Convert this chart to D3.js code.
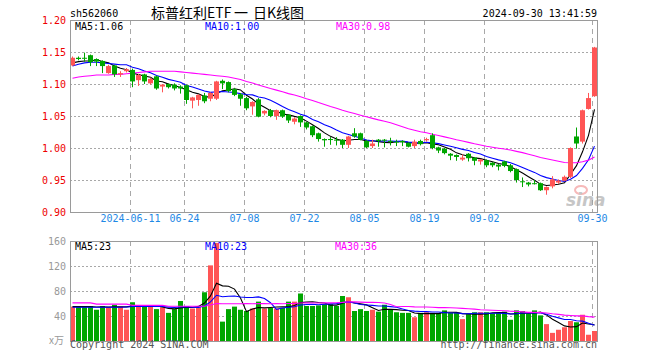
<!DOCTYPE html>
<html><head><meta charset="utf-8">
<script src="https://cdn.jsdelivr.net/npm/d3@7/dist/d3.min.js"></script>
<style>
body{margin:0;background:#fff;}
svg{display:block;}
text{font-family:"DejaVu Sans Mono",monospace;font-size:10px;}
</style></head><body>
<svg id="c" width="660" height="360"></svg>
<script>
// ---- data ----
const dates = ["05-27","05-28","05-29","05-30","05-31","06-03","06-04","06-05","06-06","06-07",
"06-11","06-12","06-13","06-14","06-17","06-18","06-19","06-20","06-21","06-24",
"06-25","06-26","06-27","06-28","07-01","07-02","07-03","07-04","07-05","07-08",
"07-09","07-10","07-11","07-12","07-15","07-16","07-17","07-18","07-19","07-22",
"07-23","07-24","07-25","07-26","07-29","07-30","07-31","08-01","08-02","08-05",
"08-06","08-07","08-08","08-09","08-12","08-13","08-14","08-15","08-16","08-19",
"08-20","08-21","08-22","08-23","08-26","08-27","08-28","08-29","08-30","09-02",
"09-03","09-04","09-05","09-06","09-09","09-10","09-11","09-12","09-13","09-18",
"09-19","09-20","09-23","09-24","09-25","09-26","09-27","09-30"];
const open  = [1.129,1.141,1.141,1.145,1.139,1.136,1.117,1.129,1.115,1.120,
1.122,1.106,1.115,1.101,1.112,1.096,1.100,1.099,1.096,1.098,
1.074,1.075,1.082,1.077,1.077,1.105,1.103,1.092,1.084,1.078,
1.065,1.076,1.054,1.059,1.050,1.059,1.052,1.041,1.050,1.040,
1.034,1.023,1.014,1.014,1.013,1.013,1.005,1.023,1.023,1.011,
1.003,1.013,1.013,1.011,1.010,1.011,1.008,1.003,1.011,1.012,
1.020,1.001,0.999,0.991,0.989,0.982,0.991,0.985,0.979,0.981,
0.977,0.974,0.979,0.973,0.967,0.948,0.946,0.945,0.945,0.934,
0.940,0.946,0.949,0.955,1.018,1.010,1.061,1.081];
const high  = [1.143,1.143,1.149,1.146,1.140,1.137,1.130,1.130,1.120,1.125,
1.124,1.116,1.116,1.110,1.113,1.100,1.101,1.101,1.098,1.099,
1.080,1.084,1.086,1.087,1.105,1.107,1.104,1.094,1.086,1.080,
1.073,1.078,1.059,1.061,1.060,1.060,1.053,1.048,1.051,1.041,
1.035,1.024,1.015,1.017,1.017,1.014,1.019,1.031,1.024,1.013,
1.013,1.014,1.014,1.016,1.013,1.012,1.009,1.013,1.013,1.016,
1.023,1.002,1.000,0.992,0.990,0.990,0.992,0.986,0.983,0.982,
0.978,0.975,0.980,0.975,0.968,0.954,0.947,0.950,0.946,0.940,
0.956,0.951,0.957,1.001,1.032,1.060,1.086,1.158];
const low   = [1.128,1.137,1.135,1.128,1.128,1.117,1.116,1.111,1.111,1.118,
1.095,1.097,1.100,1.099,1.091,1.087,1.093,1.090,1.085,1.069,
1.062,1.066,1.070,1.073,1.075,1.092,1.087,1.081,1.066,1.059,
1.052,1.048,1.051,1.048,1.044,1.047,1.039,1.037,1.033,1.029,
1.017,1.010,1.002,1.005,1.004,1.000,1.000,1.016,1.012,1.000,
1.000,1.002,1.001,1.004,1.003,1.003,1.001,1.000,1.004,1.010,
0.998,0.992,0.990,0.981,0.980,0.980,0.979,0.973,0.974,0.970,
0.970,0.965,0.970,0.962,0.946,0.939,0.940,0.943,0.933,0.927,
0.937,0.944,0.948,0.953,0.999,1.007,1.060,1.080];
const close = [1.141,1.139,1.140,1.134,1.135,1.128,1.128,1.115,1.117,1.123,
1.104,1.114,1.104,1.108,1.093,1.099,1.095,1.093,1.093,1.075,
1.079,1.083,1.073,1.086,1.104,1.101,1.089,1.083,1.077,1.062,
1.072,1.049,1.058,1.050,1.059,1.049,1.043,1.046,1.040,1.032,
1.020,1.014,1.012,1.013,1.012,1.005,1.018,1.018,1.013,1.001,
1.007,1.011,1.012,1.010,1.009,1.009,1.002,1.010,1.006,1.014,
1.000,0.996,0.992,0.988,0.986,0.985,0.984,0.980,0.982,0.973,
0.973,0.971,0.972,0.964,0.950,0.947,0.943,0.944,0.934,0.939,
0.951,0.949,0.955,1.000,1.007,1.059,1.078,1.157];
const volume = [55,56,55,56,50,56,54,58,55,50,
62,56,55,56,51,54,45,51,64,56,
52,54,78,121,157,31,51,55,50,48,
52,63,52,53,52,53,63,63,76,56,
56,57,59,59,56,72,70,48,51,48,
50,47,58,50,46,45,45,38,45,46,
45,45,49,45,45,35,43,46,46,46,
44,45,47,34,49,48,44,49,41,27,
13,18,22,32,30,42,10,16];
// moving-average values before a full window exists
const priceMa5Head  = [1.133,1.135,1.136,1.136];
const priceMa10Head = [1.128,1.131,1.133,1.134,1.134,1.133,1.132,1.131,1.130];
const priceMa30Head = [1.109,1.111,1.112,1.113,1.114,1.114,1.114,1.115,1.115,1.116,
1.117,1.118,1.119,1.120,1.120,1.120,1.120,1.120,1.119,1.118,
1.117,1.116,1.115,1.114,1.113,1.112,1.111,1.109,1.107];
const volMa5Head  = [55,55,55,55];
const volMa10Head = [54,54,54,54,54,54,54,54,54];
const volMa30Head = [61,61,61,61,59,59,59,59,59,59,
57,57,57,57,57,57,55.5,55.5,55.5,55.5,
55.5,55.5,55.5,57.5,60,59.5,59.5,59.5,59.5];

const tickIndex  = [10,19,29,39,49,59,69,87];
const tickLabels = ["2024-06-11","06-24","07-08","07-22","08-05","08-19","09-02","09-30"];
const priceTicks = [0.90,0.95,1.00,1.05,1.10,1.15,1.20];
const volTicks   = [40,80,120,160];
const priceLegend = ["MA5:1.06","MA10:1.00","MA30:0.98"];
const volLegend   = ["MA5:23","MA10:23","MA30:36"];
const titleCode = "sh562060";
const titleName = "标普红利ETF 一 日K线图";
const titleTime = "2024-09-30 13:41:59";

// ---- drawing ----
const RED = "#ff5555", GREEN = "#00a600", GRID = "#a8a8a8";
const maColors = ["#000000","#0000ff","#ff00ff"];
const svg = d3.select("#c");
const L = 70, R = 597.5;
const x = d3.scaleLinear().domain([0, 88]).range([70, 598]);
const yP = d3.scaleLinear().domain([0.90, 1.20]).range([212, 20]);
const yV = d3.scaleLinear().domain([0, 160]).range([341, 241]);
const idx = d3.range(dates.length);

function movingAvg(vals, n, head) {
  return vals.map((v, i) => i < n - 1 ? head[i] : d3.mean(vals.slice(i - n + 1, i + 1)));
}
const pMA = [movingAvg(close,5,priceMa5Head), movingAvg(close,10,priceMa10Head), movingAvg(close,30,priceMa30Head)];
const vMA = [movingAvg(volume,5,volMa5Head), movingAvg(volume,10,volMa10Head), movingAvg(volume,30,volMa30Head)];

// title
svg.append("text").attr("x", 70).attr("y", 17).text(titleCode);
const tt = svg.append("text").attr("y", 18)
  .style("font-family", "'Noto Sans CJK SC','DejaVu Sans Mono',sans-serif").style("font-size", "14px");
const titleX = [151, 234, 253];
titleName.split(" ").forEach((part, k) => tt.append("tspan").attr("x", titleX[k]).text(part));
svg.append("text").attr("x", 597).attr("y", 17).attr("text-anchor", "end").text(titleTime);

function panel(yScale, top, bottom, hTicks) {
  const g = svg.append("g");
  g.selectAll(".h").data(hTicks).join("line")
    .attr("x1", L).attr("x2", R)
    .attr("y1", d => Math.round(yScale(d)) + 0.5).attr("y2", d => Math.round(yScale(d)) + 0.5)
    .attr("stroke", GRID).attr("stroke-dasharray", "2,2");
  g.selectAll(".v").data(tickIndex).join("line")
    .attr("x1", d => x(d) + 0.5).attr("x2", d => x(d) + 0.5)
    .attr("y1", top).attr("y2", bottom)
    .attr("stroke", GRID).attr("stroke-dasharray", "5,4");
  return g;
}
function border(top, bottom) {
  svg.append("rect").attr("x", L + 0.5).attr("y", top + 0.5).attr("width", R - L - 0.5).attr("height", bottom - top)
    .attr("fill", "none").attr("stroke", "#9a9a9a").attr("stroke-width", 1);
}

// price panel
panel(yP, 20, 212, [0.95,1.00,1.05,1.10,1.15]);

// watermark
const wm = svg.append("g").attr("opacity", 0.55);
wm.append("ellipse").attr("cx", 581).attr("cy", 190).attr("rx", 6).attr("ry", 4)
  .attr("fill", "none").attr("stroke", "#f08080").attr("stroke-width", 2);
wm.append("text").attr("x", 566).attr("y", 206)
  .style("font-family", "'DejaVu Sans',sans-serif").style("font-size", "17px")
  .style("font-style", "italic").style("font-weight", "bold").style("fill", "#999").text("sina");

// MA lines (price)
pMA.forEach((arr, k) => {
  svg.append("path").datum(arr)
    .attr("d", d3.line().x((d, i) => x(i) + 2.5).y(d => yP(d)))
    .attr("fill", "none").attr("stroke", maColors[k]).attr("stroke-width", 1.1);
});

// candles
const cg = svg.append("g");
cg.selectAll("line").data(idx).join("line")
  .attr("x1", i => x(i) + 2.5).attr("x2", i => x(i) + 2.5)
  .attr("y1", i => yP(high[i])).attr("y2", i => yP(low[i]))
  .attr("stroke", i => close[i] >= open[i] ? RED : GREEN);
cg.selectAll("rect").data(idx).join("rect")
  .attr("x", i => x(i)).attr("width", 5)
  .attr("y", i => yP(Math.max(open[i], close[i])))
  .attr("height", i => Math.max(1, yP(Math.min(open[i], close[i])) - yP(Math.max(open[i], close[i]))))
  .attr("fill", i => close[i] >= open[i] ? RED : GREEN);

border(20, 212);

// price axis labels (red), placed with the price scale
svg.append("g").selectAll("text").data(priceTicks).join("text")
  .attr("x", 66).attr("y", d => yP(d)).attr("dy", "0.35em")
  .attr("text-anchor", "end").attr("fill", "#ee0000")
  .text(d => d3.format(".2f")(d));

// date axis
const da = svg.append("g").attr("transform", "translate(0,215)")
  .call(d3.axisBottom(x).tickValues(tickIndex).tickSize(0).tickPadding(0)
    .tickFormat((d, i) => tickLabels[i]));
da.select(".domain").remove();
da.attr("color", "#1e88e5");
da.selectAll("text").attr("fill", "#1e88e5").style("fill", "#1e88e5").attr("dy", "0.71em")
  .style("font-family", "'DejaVu Sans Mono',monospace").style("font-size", "10px");

// price legend
[75, 205, 336].forEach((lx, k) => {
  svg.append("text").attr("x", lx).attr("y", 30).style("fill", maColors[k]).text(priceLegend[k]);
});

// volume panel
panel(yV, 241, 341, [40,80,120]);
svg.append("g").selectAll("rect").data(idx).join("rect")
  .attr("x", i => x(i)).attr("width", 5)
  .attr("y", i => yV(volume[i])).attr("height", i => yV(0) - yV(volume[i]))
  .attr("fill", i => close[i] >= open[i] ? RED : GREEN);
vMA.forEach((arr, k) => {
  svg.append("path").datum(arr)
    .attr("d", d3.line().x((d, i) => x(i) + 2.5).y(d => yV(d)))
    .attr("fill", "none").attr("stroke", maColors[k]).attr("stroke-width", 1.1);
});
border(241, 341);

svg.append("g").selectAll("text").data(volTicks).join("text")
  .attr("x", 66).attr("y", d => yV(d)).attr("dy", "0.35em")
  .attr("text-anchor", "end").attr("fill", "#999")
  .text(d => d);
svg.append("text").attr("x", 64).attr("y", 344).attr("text-anchor", "end").style("fill", "#999")
  .style("font-family", "'Noto Sans CJK SC',sans-serif").style("font-size", "10px").text("x万");

[75, 205, 335].forEach((lx, k) => {
  svg.append("text").attr("x", lx).attr("y", 250).style("fill", maColors[k]).text(volLegend[k]);
});

// footer
svg.append("text").attr("x", 70).attr("y", 348).style("fill", "#555").text("Copyright 2024 SINA.COM");
svg.append("text").attr("x", 597).attr("y", 348).attr("text-anchor", "end").style("fill", "#555").text("http://finance.sina.com.cn");
</script>
</body></html>
